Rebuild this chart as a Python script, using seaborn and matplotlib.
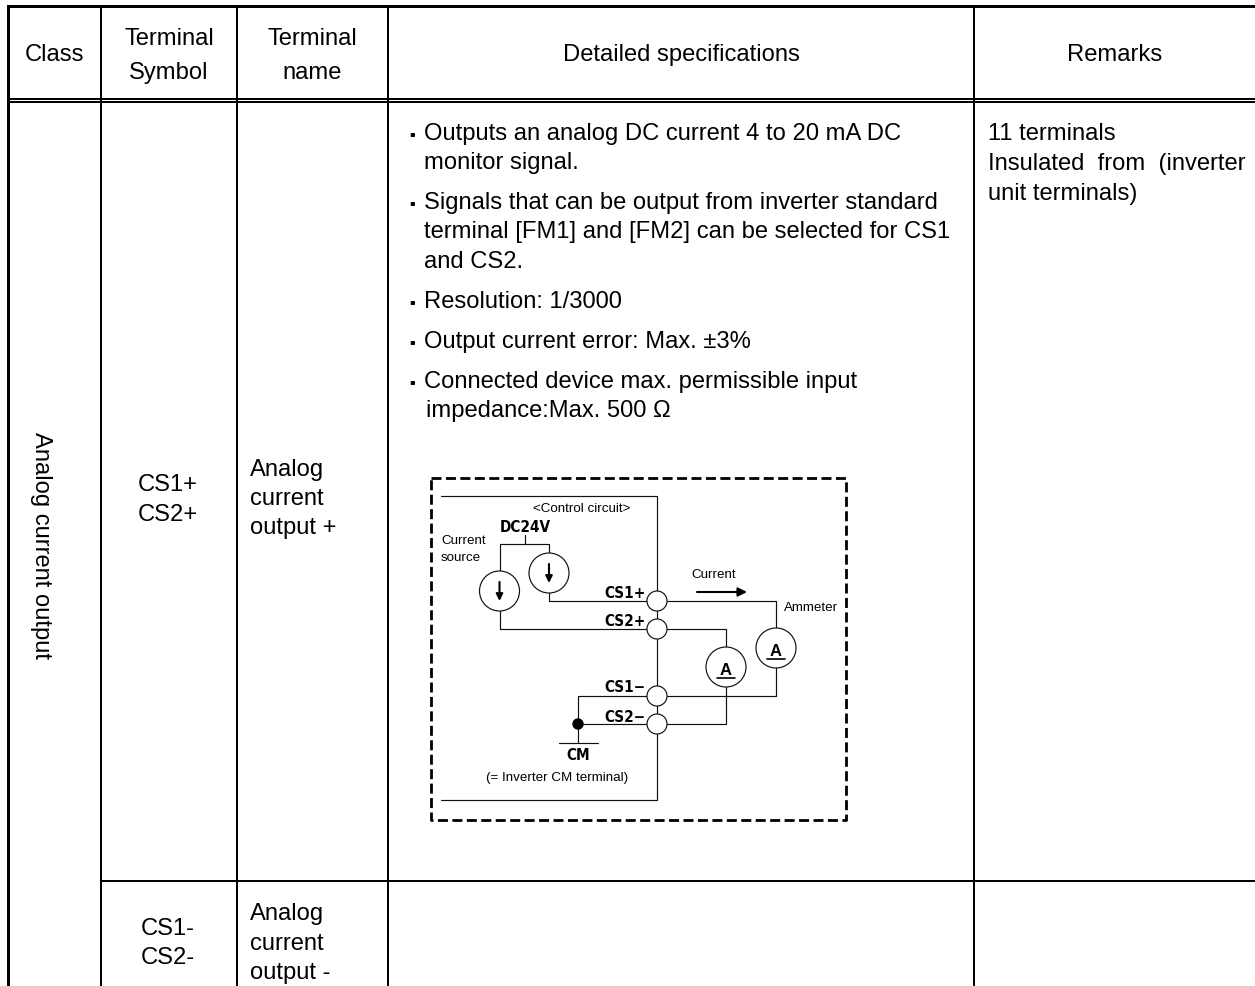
import matplotlib
matplotlib.use("Agg")
import matplotlib.pyplot as plt
from matplotlib.patches import Circle
import pandas as pd
import seaborn as sns

sns.set_theme(style="white")
plt.rcParams['font.family'] = ['Liberation Sans', 'DejaVu Sans']
plt.rcParams['text.color'] = 'black'

COL_X = [7.5, 101, 237, 388, 974, 1255]
HEADERS = ["Class", "Terminal\nSymbol", "Terminal\nname", "Detailed specifications", "Remarks"]
SYMBOLS = ["CS1+\nCS2+", "CS1-\nCS2-"]
NAMES = ["Analog\ncurrent\noutput +", "Analog\ncurrent\noutput -"]
SPECS = [
    (True, "Outputs an analog DC current 4 to 20 mA DC", 424, 134),
    (False, "monitor signal.", 424, 163),
    (True, "Signals that can be output from inverter standard", 424, 203),
    (False, "terminal [FM1] and [FM2] can be selected for CS1", 424, 232),
    (False, "and CS2.", 424, 262),
    (True, "Resolution: 1/3000", 424, 302),
    (True, "Output current error: Max. \u00b13%", 424, 342),
    (True, "Connected device max. permissible input", 424, 382),
    (False, "impedance:Max. 500 \u03a9", 426, 411),
]
REMARKS = ["11 terminals", "Insulated  from  (inverter", "unit terminals)"]
REMARK_Y = [134, 164, 194]

TABLE_LINES = [
    (7.5, 6, 1255, 6, 3), (7.5, 98.5, 1255, 98.5, 2), (7.5, 102, 1255, 102, 2),
    (101, 881, 1255, 881, 2),
    (7.5, 6, 7.5, 986, 3), (101, 6, 101, 986, 2), (237, 6, 237, 986, 2),
    (388, 6, 388, 986, 2), (974, 6, 974, 986, 2),
]
WIRES = [
    [(441, 496), (657, 496), (657, 800), (441, 800)],
    [(499.5, 544), (549, 544)], [(525, 544), (525, 535)],
    [(499.5, 544), (499.5, 571)], [(549, 544), (549, 553)],
    [(499.5, 611), (499.5, 629), (647, 629)],
    [(549, 593), (549, 601), (647, 601)],
    [(667, 601), (776, 601), (776, 628)],
    [(776, 668), (776, 696), (667, 696)],
    [(667, 629), (726, 629), (726, 647)],
    [(726, 687), (726, 724), (667, 724)],
    [(647, 696), (578, 696), (578, 743)],
    [(578, 724), (647, 724)],
    [(559, 743), (598, 743)],
]
TERMINALS = [("CS1+", 593), ("CS2+", 622), ("CS1\u2212", 688), ("CS2\u2212", 717)]
TERMINAL_Y = [601, 629, 696, 724]
SOURCES = [(499.5, 591), (549, 573)]
METERS = [(726, 667), (776, 648)]

fig = plt.figure(figsize=(12.55, 9.86), dpi=100)
ax = fig.add_axes([0, 0, 1, 1])

rows = []
for i, (x0, y0, x1, y1, w) in enumerate(TABLE_LINES):
    rows += [dict(x=x0, y=y0, seg=i, w=w), dict(x=x1, y=y1, seg=i, w=w)]
tbl = pd.DataFrame(rows)
for w, g in tbl.groupby("w"):
    sns.lineplot(data=g, x="x", y="y", units="seg", estimator=None, sort=False,
                 color="black", lw=w * 0.72, ax=ax, legend=False, solid_capstyle="projecting")

rows = []
for i, seg in enumerate(WIRES):
    rows += [dict(x=p[0], y=p[1], seg=i) for p in seg]
sns.lineplot(data=pd.DataFrame(rows), x="x", y="y", units="seg", estimator=None, sort=False,
             color="#111111", lw=0.85, ax=ax, legend=False)

ax.plot([431, 846, 846, 431, 431], [478, 478, 820, 820, 478], color="black", lw=2.0,
        dashes=(3.6, 1.6), zorder=3)

FS = 17.1
ctr = [(COL_X[i] + COL_X[i + 1]) / 2 for i in range(5)]
for c, h in zip(ctr, HEADERS):
    y = 56 if "\n" in h else 55
    ax.text(c, y, h, ha="center", va="center", fontsize=FS, linespacing=1.65)
ax.text(41, 545, "Analog current output", rotation=-90, ha="center", va="center", fontsize=FS)
ax.text(168, 500, SYMBOLS[0], ha="center", va="center", fontsize=FS, linespacing=1.45)
ax.text(168, 943.5, SYMBOLS[1], ha="center", va="center", fontsize=FS, linespacing=1.45)
ax.text(250, 499, NAMES[0], ha="left", va="center", fontsize=FS, linespacing=1.42)
ax.text(250, 943.5, NAMES[1], ha="left", va="center", fontsize=FS, linespacing=1.42)
for mark, line, x, y in SPECS:
    if mark:
        ax.text(412, y, "\u25aa", ha="center", va="center", fontsize=6, family="DejaVu Sans")
    ax.text(x, y, line, ha="left", va="center", fontsize=FS)
for line, y in zip(REMARKS, REMARK_Y):
    ax.text(988, y, line, ha="left", va="center", fontsize=FS)

for cy in TERMINAL_Y:
    ax.add_patch(Circle((657, cy), 10, fc="white", ec="#111111", lw=0.85, zorder=4))
for cx, cy in SOURCES:
    ax.add_patch(Circle((cx, cy), 20, fc="white", ec="#111111", lw=0.85, zorder=4))
    ax.annotate("", xy=(cx, cy + 10), xytext=(cx, cy - 9), zorder=5,
                arrowprops=dict(arrowstyle="-|>", color="black", lw=1.5, shrinkA=0, shrinkB=0, mutation_scale=10))
for cx, cy in METERS:
    ax.add_patch(Circle((cx, cy), 20, fc="white", ec="#111111", lw=0.85, zorder=4))
    ax.text(cx, cy + 3.5, "A", ha="center", va="center", fontsize=12, fontweight="bold", zorder=5)
    ax.plot([cx - 9, cx + 9], [cy + 10.5, cy + 10.5], color="black", lw=1.2, zorder=5)
ax.add_patch(Circle((578, 724), 5, fc="black", ec="black", zorder=4))
ax.annotate("", xy=(747, 592), xytext=(697, 592),
            arrowprops=dict(arrowstyle="-|>", color="black", lw=1.5, shrinkA=0, shrinkB=0, mutation_scale=13))

SM = 9.6
ax.text(582, 509, "<Control circuit>", ha="center", va="center", fontsize=SM)
ax.text(441, 541, "Current", ha="left", va="center", fontsize=SM)
ax.text(441, 558, "source", ha="left", va="center", fontsize=SM)
ax.text(714, 575, "Current", ha="center", va="center", fontsize=SM)
ax.text(811, 608, "Ammeter", ha="center", va="center", fontsize=SM)
ax.text(557, 778, "(= Inverter CM terminal)", ha="center", va="center", fontsize=SM)
BOLD = dict(family="DejaVu Sans", fontweight="bold", fontstretch="condensed", fontsize=11, ha="center", va="center")
ax.text(525, 527, "DC24V", **BOLD)
ax.text(578, 755, "CM", **BOLD)
BOLD_R = dict(BOLD, ha="right")
for lab, ty in TERMINALS:
    ax.text(646, ty, lab, **BOLD_R)

ax.set_xlim(0, 1255)
ax.set_ylim(986, 0)
ax.axis("off")
fig.savefig("out.png", dpi=100)
